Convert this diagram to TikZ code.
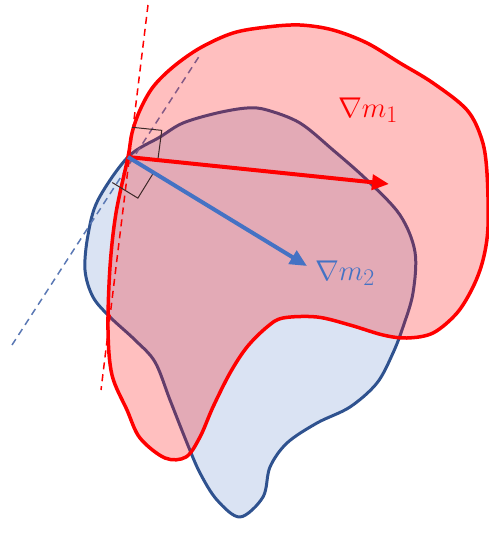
\documentclass[tikz,border=0pt]{standalone}
\usepackage{tikz}
\usetikzlibrary{arrows.meta,calc}
\definecolor{gradred}{RGB}{255,0,0}
\definecolor{shapeblue}{RGB}{47,82,143}
\definecolor{arrowblue}{RGB}{68,114,196}
\definecolor{fillblue}{RGB}{218,227,243}
\definecolor{tanblue}{RGB}{90,120,180}
\definecolor{markdark}{RGB}{60,40,40}
\tikzstyle{blueshape} = [draw=shapeblue, line width=3pt, fill=fillblue, line join=round]
\tikzstyle{redshape} = [draw=gradred, line width=3.5pt, fill=gradred, fill opacity=0.25, line join=round]
\tikzstyle{tangent} = [line width=1.5pt, dash pattern=on 7pt off 5pt]
\tikzstyle{rightangle} = [draw=markdark, line width=1pt]
\tikzstyle{grad} = [line width=4pt, ->]
\tikzstyle{label} = [font=\Huge, scale=1.15, inner sep=0pt]

\begin{document}
\begin{tikzpicture}[x=1pt, y=-1pt, >={Triangle[length=17pt,width=15pt]}]
    \useasboundingbox (0,0) rectangle (489,542);
    % Points
    \coordinate (T) at (128,157);
    \coordinate (a1) at (389,184);
    \coordinate (a2) at (307,266);
    \coordinate (rdA) at (148,5);
    \coordinate (rdB) at (101,390);
    \coordinate (bdA) at (12,345);
    \coordinate (bdB) at (200,55);

    % Blue region
    \draw [blueshape] plot [smooth cycle, tension=0.55] coordinates {
        (T) (160,137) (183,123) (217,113) (247,108) (267,110) (300,123)
        (333,150) (367,180) (400,215) (415,252) (413,293)
        (403,327) (393,353) (377,383) (350,407) (317,423) (287,443)
        (270,467) (263,497) (240,517) (217,500) (200,473) (187,443)
        (170,400) (155,362) (135,340) (110,317) (93,297)
        (85,270) (88,235) (98,200)};
    \draw [tangent, tanblue] (bdA) -- (bdB);

    % Red region
    \draw [redshape] plot [smooth cycle, tension=0.55] coordinates {
        (T) (132,133) (140,110) (153,87) (173,67) (200,48) (233,33)
        (267,27) (300,25) (333,30) (367,43) (400,63) (433,83) (467,110)
        (482,140) (487,173) (488,227) (483,260) (473,287) (457,313)
        (433,333) (407,338) (383,335) (350,325) (317,317) (283,318)
        (267,327) (247,347) (230,373) (213,407) (200,437) (186,457)
        (165,458) (140,438) (127,410) (112,375) (108,330)
        (110,267) (116,213)};
    \draw [tangent, gradred] (rdA) -- (rdB);

    % Right angles
    \draw [rightangle] ($(T)!30pt!(rdA)$) -- ($(T)!30pt!(rdA) + (T)!30pt!(a1) - (T)$) -- ($(T)!30pt!(a1)$);
    \draw [rightangle] ($(T)!30pt!(bdA)$) -- ($(T)!30pt!(bdA) + (T)!30pt!(a2) - (T)$) -- ($(T)!30pt!(a2)$);

    % Gradients
    \draw [grad, gradred] (T) -- (a1);
    \draw [grad, arrowblue] (T) -- (a2);
    \node [label, text=gradred] (m1) at (368,110) {$\nabla m_1$};
    \node [label, text=arrowblue] (m2) at (345,273) {$\nabla m_2$};
\end{tikzpicture}
\end{document}
